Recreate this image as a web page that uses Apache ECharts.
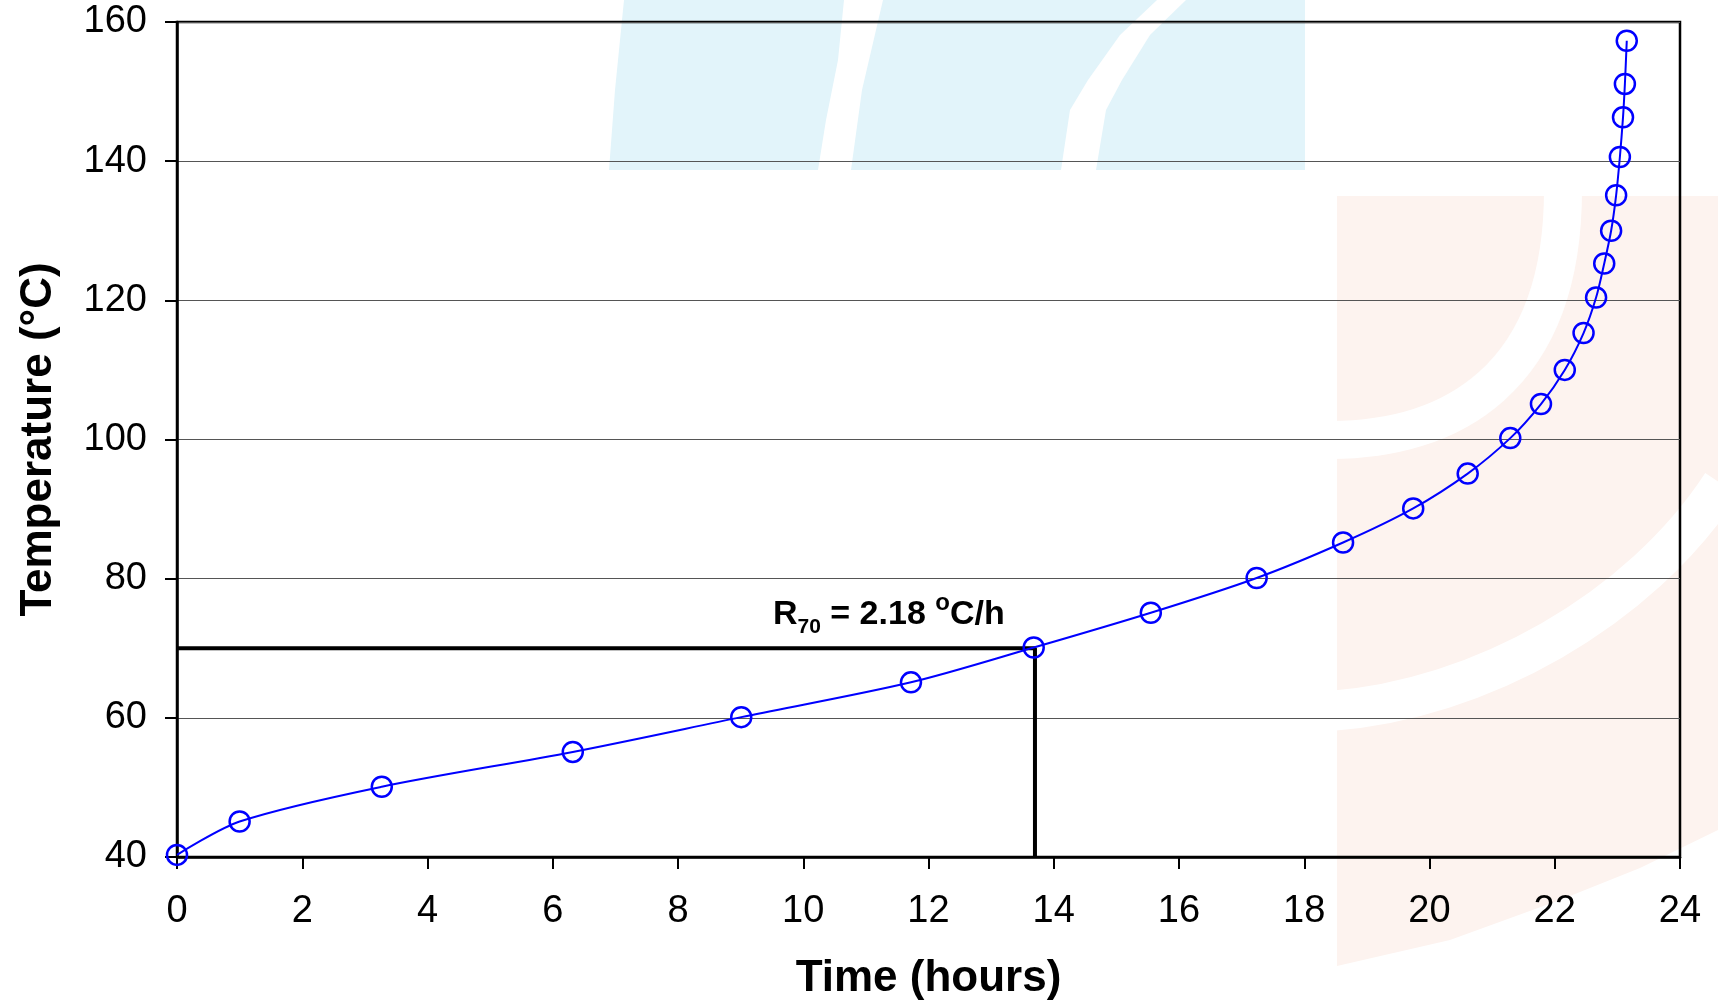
<!DOCTYPE html>
<html>
<head>
<meta charset="utf-8">
<style>html,body{margin:0;padding:0;background:#fff}#c{width:1718px;height:1007px}</style>
<script src="https://cdn.jsdelivr.net/npm/echarts@6/dist/echarts.min.js"></script>
</head>
<body>
<div id="c"></div>
<script>
// ---- data ----
const timeHours = [0, 1.0, 3.27, 6.32, 9.01, 11.72, 13.68, 15.55, 17.24, 18.62, 19.74, 20.61, 21.29, 21.78, 22.16, 22.46, 22.66, 22.79, 22.9, 22.98, 23.04, 23.09, 23.12, 23.15];
const temperature = [40.3, 45.1, 50.1, 55.1, 60.1, 65.1, 70.1, 75.1, 80.1, 85.2, 90.1, 95.1, 100.2, 105.1, 110, 115.3, 120.4, 125.3, 130, 135.1, 140.6, 146.3, 151.1, 157.3];
const annotTemp = 70;
const annotTime = 13.7;
const xRange = [0, 24, 2];
const yRange = [40, 160, 20];
const rateLabel = { sym: 'R', sub: '70', mid: ' = 2.18 ', sup: 'o', unit: 'C/h' };

const FONT = "'Liberation Sans', Arial, sans-serif";
const chart = echarts.init(document.getElementById('c'));

const seriesData = timeHours.map((t, i) => [t, temperature[i]]);
const annotData = [[xRange[0], annotTemp], [annotTime, annotTemp], [annotTime, yRange[0]]];

const blue = '#e2f4fa';
const pink = '#fdf3ef';
const wm = (o) => Object.assign({ z: -10, silent: true }, o);

const option = {
  animation: false,
  backgroundColor: '#fff',
  graphic: {
    elements: [
      wm({ type: 'polygon', shape: { points: [[624,0],[844,0],[838,60],[826,120],[818,170],[609,170],[615,90]] }, style: { fill: blue } }),
      wm({ type: 'polygon', shape: { points: [[883,0],[1157,0],[1120,35],[1088,80],[1070,110],[1061,170],[851,170],[862,90]] }, style: { fill: blue } }),
      wm({ type: 'polygon', shape: { points: [[1186,0],[1305,0],[1305,170],[1096,170],[1106,110],[1122,80],[1150,35]] }, style: { fill: blue } }),
      wm({ type: 'polygon', shape: { points: [[1337,196],[1718,196],[1718,830],[1640,868],[1560,900],[1450,940],[1337,966]] }, style: { fill: pink } }),
      wm({ type: 'bezierCurve', shape: { x1: 1563, y1: 190, cpx1: 1563, cpy1: 380, cpx2: 1450, cpy2: 440, x2: 1330, y2: 440 }, style: { fill: null, stroke: '#fff', lineWidth: 38 } }),
      wm({ type: 'bezierCurve', shape: { x1: 1330, y1: 711, cpx1: 1480, cpy1: 700, cpx2: 1640, cpy2: 610, x2: 1722, y2: 484 }, style: { fill: null, stroke: '#fff', lineWidth: 40 } })
    ]
  },
  grid: { left: 177, right: 38, top: 22, bottom: 150, show: true, borderColor: '#000', borderWidth: 2.5, backgroundColor: 'transparent' },
  xAxis: {
    type: 'value', min: xRange[0], max: xRange[1], interval: xRange[2],
    name: 'Time (hours)', nameLocation: 'middle', nameGap: 100,
    nameTextStyle: { fontSize: 44, fontWeight: 'bold', color: '#000', fontFamily: FONT },
    axisLine: { show: true, onZero: false, lineStyle: { color: '#000', width: 2.5 } },
    axisTick: { show: true, length: 12, lineStyle: { color: '#000', width: 2 } },
    axisLabel: { fontSize: 38, color: '#000', margin: 36, fontFamily: FONT },
    splitLine: { show: false }
  },
  yAxis: {
    type: 'value', min: yRange[0], max: yRange[1], interval: yRange[2],
    name: 'Temperature (°C)', nameLocation: 'middle', nameGap: 116,
    nameTextStyle: { fontSize: 44, fontWeight: 'bold', color: '#000', fontFamily: FONT },
    axisLine: { show: true, onZero: false, lineStyle: { color: '#000', width: 2.5 } },
    axisTick: { show: true, length: 12, lineStyle: { color: '#000', width: 2 } },
    axisLabel: { fontSize: 38, color: '#000', margin: 30, fontFamily: FONT },
    splitLine: { show: true, lineStyle: { color: '#555', width: 1.2 } }
  },
  series: [
    {
      type: 'line', data: annotData, symbol: 'none', silent: true, clip: false,
      lineStyle: { color: '#000', width: 4 }, z: 2
    },
    {
      type: 'scatter', data: [[annotTime, annotTemp]], symbolSize: 1, silent: true,
      itemStyle: { color: 'rgba(0,0,0,0)', opacity: 1 }, z: 4,
      label: {
        show: true, position: 'inside', align: 'left', verticalAlign: 'top', offset: [-262, -57],
        color: '#000', opacity: 1, textBorderWidth: 0, textBorderColor: 'transparent',
        formatter: '{b|' + rateLabel.sym + '}{s|' + rateLabel.sub + '}{b|' + rateLabel.mid + '}{o|' + rateLabel.sup + '}{b|' + rateLabel.unit + '}',
        rich: {
          b: { fontSize: 34, fontWeight: 'bold', lineHeight: 46, color: '#000', textBorderWidth: 0, fontFamily: FONT },
          s: { fontSize: 21, fontWeight: 'bold', lineHeight: 30, verticalAlign: 'bottom', color: '#000', textBorderWidth: 0, fontFamily: FONT },
          o: { fontSize: 24, fontWeight: 'bold', lineHeight: 20, verticalAlign: 'top', color: '#000', textBorderWidth: 0, fontFamily: FONT }
        }
      }
    },
    {
      type: 'line', data: seriesData, smooth: 0.3, clip: false, silent: true,
      symbol: 'circle', symbolSize: 20,
      itemStyle: { color: 'rgba(0,0,0,0)', borderColor: '#0000ff', borderWidth: 2.5 },
      lineStyle: { color: '#0000ff', width: 2 }, z: 3
    }
  ]
};
chart.setOption(option);
</script>
</body>
</html>
